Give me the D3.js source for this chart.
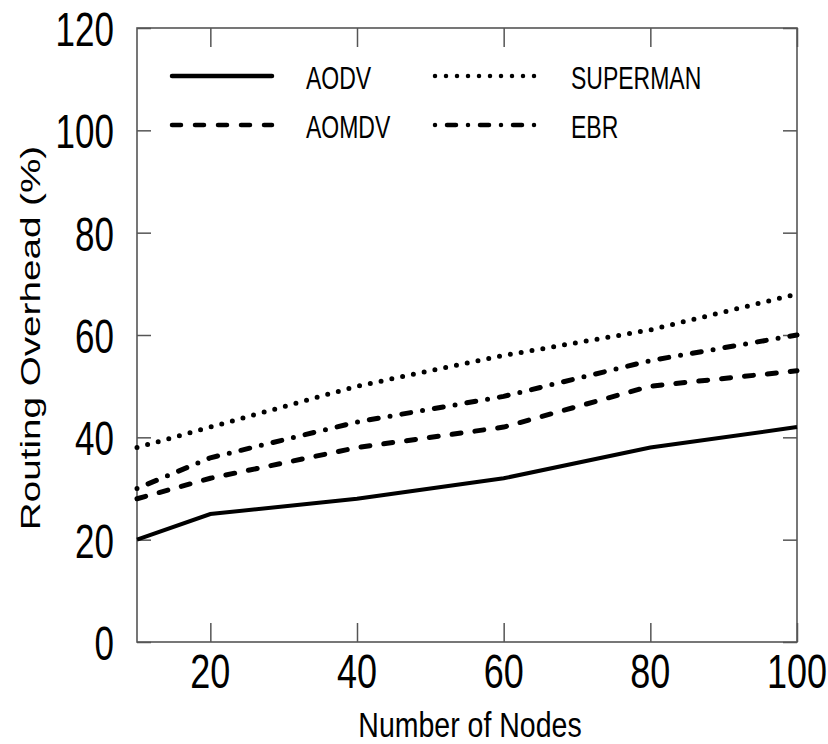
<!DOCTYPE html>
<html>
<head>
<meta charset="utf-8">
<script src="https://cdn.jsdelivr.net/npm/d3@7"></script>
<style>
  body { margin: 0; background: #fff; }
  text { font-family: "Liberation Sans", Arial, sans-serif; fill: #000; }
</style>
</head>
<body>
<div id="chart"></div>
<script>
// data
const nodes = [10, 20, 40, 60, 80, 100];
const aodv = [20, 25, 28, 32, 38, 42];
const aomdv = [28, 32, 38, 42, 50, 53];
const superman = [38, 42, 50, 56, 61, 68];
const ebr = [30, 36, 43, 48, 55, 60];

const xTicks = [20, 40, 60, 80, 100];
const yTicks = [0, 20, 40, 60, 80, 100, 120];

const series = [
  { name: "AODV", values: aodv, dash: null, col: 0, row: 0 },
  { name: "AOMDV", values: aomdv, dash: "9,14", col: 0, row: 1 },
  { name: "SUPERMAN", values: superman, dash: "0,11", col: 1, row: 0 },
  { name: "EBR", values: ebr, dash: "0,12,9,12", col: 1, row: 1 }
];

const W = 828, H = 744;
const plotL = 137, plotR = 797, plotT = 28, plotB = 642;
const stretch = 1.35; // the figure is drawn tall and narrow

const svg = d3.select("#chart").append("svg")
  .attr("width", W)
  .attr("height", H);

const x = d3.scaleLinear().domain([10, 100]).range([plotL, plotR]);
const y = d3.scaleLinear().domain([0, 120]).range([plotB, plotT]);

// inward ticks on all four sides
const frameCol = "#555";
svg.append("g")
  .attr("transform", "translate(0," + plotB + ")")
  .call(d3.axisBottom(x).tickValues(xTicks).tickSize(-19).tickFormat(""));
svg.append("g")
  .attr("transform", "translate(0," + plotT + ")")
  .call(d3.axisTop(x).tickValues(xTicks).tickSize(-19).tickFormat(""));
svg.append("g")
  .attr("transform", "translate(" + plotL + ",0)")
  .call(d3.axisLeft(y).tickValues(yTicks).tickSize(-14).tickFormat(""));
svg.append("g")
  .attr("transform", "translate(" + plotR + ",0)")
  .call(d3.axisRight(y).tickValues(yTicks).tickSize(-14).tickFormat(""));
svg.selectAll(".domain").remove();
svg.selectAll(".tick line").attr("stroke", frameCol).attr("stroke-width", 1.5);

svg.append("rect")
  .attr("x", plotL).attr("y", plotT)
  .attr("width", plotR - plotL).attr("height", plotB - plotT)
  .attr("fill", "none")
  .attr("stroke", frameCol)
  .attr("stroke-width", 1.6);

// tick labels
svg.append("g").selectAll("text")
  .data(xTicks)
  .join("text")
  .attr("transform", d => "translate(" + x(d) + ",688) scale(1," + stretch + ")")
  .attr("text-anchor", "middle")
  .attr("font-size", 36)
  .text(d => d);

svg.append("g").selectAll("text")
  .data(yTicks)
  .join("text")
  .attr("transform", d => "translate(114," + (y(d) + 18) + ") scale(1," + stretch + ")")
  .attr("text-anchor", "end")
  .attr("font-size", 35)
  .text(d => d);

// axis titles
svg.append("text")
  .attr("transform", "translate(470,737) scale(1,1.25)")
  .attr("text-anchor", "middle")
  .attr("font-size", 28.5)
  .text("Number of Nodes");

svg.append("text")
  .attr("transform", "translate(40,338) rotate(-90) scale(1.38,1)")
  .attr("text-anchor", "middle")
  .attr("font-size", 28)
  .text("Routing Overhead (%)");

// lines
const line = d3.line()
  .x((d, i) => x(nodes[i]))
  .y(d => y(d));

svg.append("g").selectAll("path")
  .data(series)
  .join("path")
  .attr("d", d => line(d.values))
  .attr("fill", "none")
  .attr("stroke", "#000")
  .attr("stroke-width", d => d.dash ? 5 : 4)
  .attr("stroke-linecap", d => d.dash ? "round" : "butt")
  .attr("stroke-dasharray", d => d.dash);

// legend
const legend = svg.append("g").selectAll("g")
  .data(series)
  .join("g")
  .attr("transform", d => "translate(" + (172 + d.col * 263) + "," + (76 + d.row * 49) + ")");

legend.append("line")
  .attr("x1", 0).attr("x2", 100)
  .attr("stroke", "#000")
  .attr("stroke-width", 4.5)
  .attr("stroke-linecap", "round")
  .attr("stroke-dasharray", d => d.dash);

legend.append("text")
  .attr("transform", d => "translate(" + (d.col ? 136 : 134) + ",13) scale(1," + stretch + ")")
  .attr("font-size", 23)
  .text(d => d.name);
</script>
</body>
</html>
